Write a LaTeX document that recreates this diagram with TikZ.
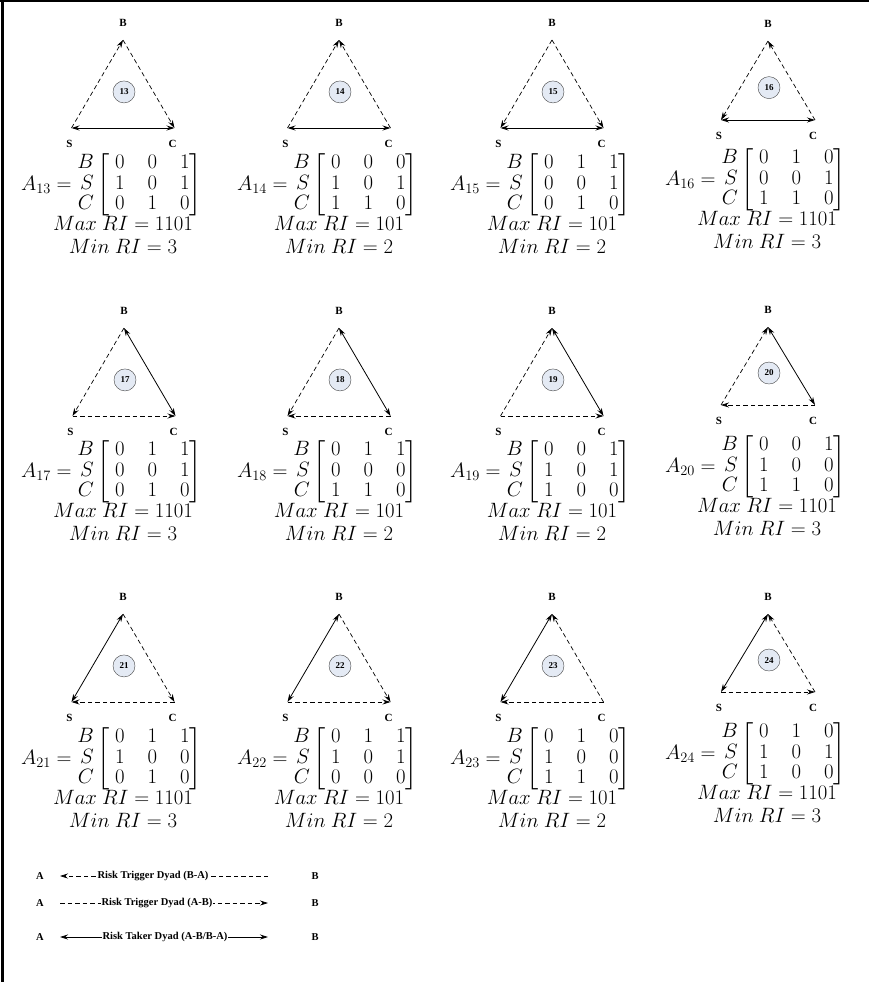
\documentclass[tikz,border=0pt]{standalone}
\usepackage{amsmath}
\usepackage[no-math]{fontspec}
\setmainfont{Liberation Serif}
\usetikzlibrary{arrows.meta}
\definecolor{badgefill}{RGB}{228,234,244}

\begin{document}
\begin{tikzpicture}[x=1pt, y=-1pt,
    corner/.style={font=\bfseries\fontsize{11}{11}\selectfont, inner sep=0pt},
    badge/.style={circle, draw=black!75, fill=badgefill, minimum size=22pt, inner sep=0pt, font=\bfseries\fontsize{9}{9}\selectfont},
    mutual/.style={{Stealth[length=8pt,width=5pt]}-{Stealth[length=8pt,width=5pt]}, line width=0.8pt},
    trig/.style={-{Stealth[length=8pt,width=5pt]}, dash pattern=on 4.5pt off 3pt, line width=0.7pt},
    mat/.style={font=\fontsize{21}{20.5}\selectfont\setlength{\arraycolsep}{11.5pt}, inner sep=0pt},
    legend/.style={font=\bfseries\fontsize{10.5}{10.5}\selectfont, inner sep=1pt}]
    \useasboundingbox (0,0) rectangle (869,982);

    % --- Frame ---
    \draw[line width=3pt] (2,0) -- (2,982);
    \draw[line width=2pt] (0,1.5) -- (869,1.5);

    % --- Triads: corners, labels, badges ---
    \foreach \n/\cx/\top/\w/\h in {13/123/40/51.5/88, 14/339/40/51.5/88, 15/552/40/51.5/88, 16/768/41/47/79,
                                  17/124/328/51.5/88, 18/339/328/51.5/88, 19/552/328/51.5/88, 20/768/327/47/78,
                                  21/123/614/51.5/88, 22/339/614/51.5/88, 23/552/614/51.5/88, 24/768/614/47/78} {
      \coordinate (t\n B) at (\cx,\top);
      \coordinate (t\n S) at (\cx-\w,\top+\h);
      \coordinate (t\n C) at (\cx+\w,\top+\h);
      \node[corner] (l\n B) at (\cx,\top-17) {B};
      \node[corner] (l\n S) at (\cx-\w-2,\top+\h+16) {S};
      \node[corner] (l\n C) at (\cx+\w-2,\top+\h+16) {C};
      \node[badge] (c\n) at (\cx+1,\top+\h*0.59) {\n};
    }

    % --- Dyads of each triad ---
    \foreach \n/\e in {13/{S/C/mutual,S/B/trig,B/C/trig}, 14/{S/C/mutual,S/B/trig,C/B/trig},
                       15/{S/C/mutual,B/S/trig,B/C/trig}, 16/{S/C/mutual,B/S/trig,C/B/trig},
                       17/{B/C/mutual,B/S/trig,S/C/trig}, 18/{B/C/mutual,B/S/trig,C/S/trig},
                       19/{B/C/mutual,S/B/trig,S/C/trig}, 20/{B/C/mutual,S/B/trig,C/S/trig},
                       21/{B/S/mutual,B/C/trig,C/S/trig}, 22/{B/S/mutual,B/C/trig,S/C/trig},
                       23/{B/S/mutual,C/B/trig,C/S/trig}, 24/{B/S/mutual,C/B/trig,S/C/trig}} {
      \foreach \a/\b/\st in \e {
        \draw[\st] (t\n\a) -- (t\n\b);
      }
    }

    % --- Adjacency matrices and RI values ---
    \foreach \n/\cx/\cy/\body/\mx/\mn in {
        13/123/0/{0&0&1\\1&0&1\\0&1&0}/1101/3, 14/339/0/{0&0&0\\1&0&1\\1&1&0}/101/2,
        15/552/0/{0&1&1\\0&0&1\\0&1&0}/101/2, 16/767/-5/{0&1&0\\0&0&1\\1&1&0}/1101/3,
        17/123/287/{0&1&1\\0&0&1\\0&1&0}/1101/3, 18/339/287/{0&1&1\\0&0&0\\1&1&0}/101/2,
        19/552/287/{0&0&1\\1&0&1\\1&0&0}/101/2, 20/767/282/{0&0&1\\1&0&0\\1&1&0}/1101/3,
        21/123/574/{0&1&1\\1&0&0\\0&1&0}/1101/3, 22/339/574/{0&1&1\\1&0&1\\0&0&0}/101/2,
        23/552/574/{0&1&0\\1&0&0\\1&1&0}/101/2, 24/767/569/{0&1&0\\1&0&1\\1&0&0}/1101/3} {
      \node[mat, anchor=east] (m\n) at (\cx+79,\cy+185)
        {$A_{\n} = \begin{array}{@{}r@{}}B\\S\\C\end{array}\left[\;\begin{matrix}\body\end{matrix}\right]$};
      \node[mat] (x\n) at (\cx,\cy+223) {$Max\ RI = \mx$};
      \node[mat] (y\n) at (\cx,\cy+246) {$Min\ RI = \mn$};
    }

    % --- Legend ---
    \foreach \i/\y in {1/876, 2/903, 3/937} {
      \node[legend] (la\i) at (40,\y) {A};
      \node[legend] (lb\i) at (315,\y) {B};
      \coordinate (s\i) at (60,\y);
      \coordinate (e\i) at (268,\y);
    }
    \draw[trig] (e1) -- (s1);
    \node[legend, fill=white] (k1) at (153,876) {Risk Trigger Dyad (B-A)};
    \draw[trig] (s2) -- (e2);
    \node[legend, fill=white] (k2) at (157,903) {Risk Trigger Dyad (A-B)};
    \draw[mutual] (s3) -- (e3);
    \node[legend, fill=white] (k3) at (165,937) {Risk Taker Dyad (A-B/B-A)};
\end{tikzpicture}
\end{document}
